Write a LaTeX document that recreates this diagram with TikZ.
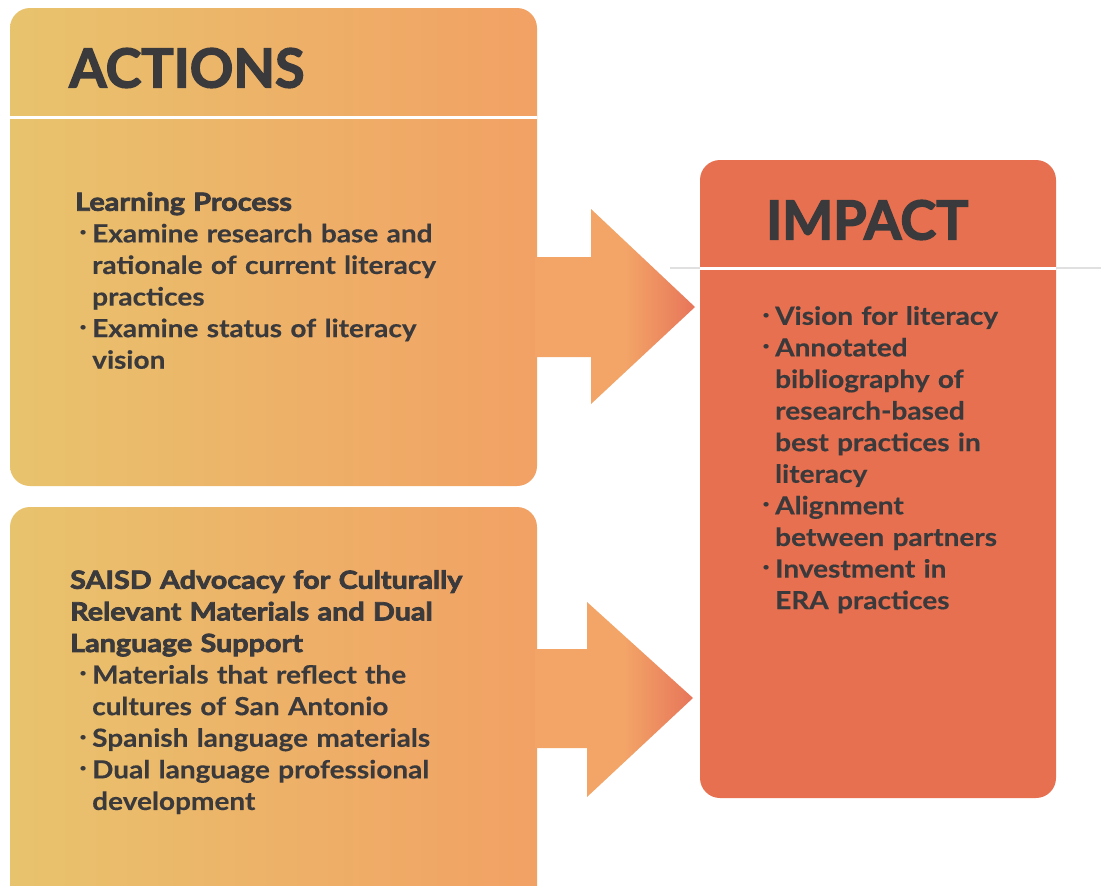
\documentclass[tikz,border=0pt]{standalone}
\usepackage{fontspec}
\setmainfont{Lato}[FakeStretch=1.12, BoldFeatures={FakeBold=0.3}]
\newfontfamily\heavyfont{Lato}[FakeStretch=1.15, BoldFeatures={FakeBold=3}]
\newfontfamily\titlefont{Lato}[BoldFeatures={FakeBold=2.5}]
\definecolor{actA}{HTML}{E8C36D}
\definecolor{actB}{HTML}{F2A164}
\definecolor{arrA}{HTML}{F3A567}
\definecolor{arrB}{HTML}{E7755A}
\definecolor{impact}{HTML}{E6704F}
\definecolor{ink}{HTML}{3A393C}
\pgfdeclarehorizontalshading{arrowfade}{100bp}{color(0bp)=(arrA); color(53bp)=(arrA); color(75bp)=(arrB); color(100bp)=(arrB)}
\newcommand\itm[1][4pt]{\hspace*{#1}\makebox[13pt][l]{\raisebox{.45ex}{\scalebox{.5}{\mdseries\textbullet}}}\ignorespaces}
\newcommand\cnt[1][4pt]{\hspace*{\dimexpr#1+13pt\relax}\ignorespaces}

\begin{document}
\begin{tikzpicture}[x=1pt,y=-1pt,
  txt/.style={anchor=north west,inner sep=0pt,text width=440pt,align=left,text=ink,font=\fontsize{25}{31.6}\selectfont\bfseries},
  hdr/.style={anchor=west,inner sep=0pt,text=ink,font=\fontsize{54}{60}\selectfont\titlefont\bfseries},
  sep/.style={white,line width=3pt}]
\useasboundingbox (0,0) rectangle (1101,886);
\clip (0,0) rectangle (1101,886);
% actions boxes
\shade[left color=actA,right color=actB,rounded corners=20pt] (10,8) rectangle (537,486);
\shade[left color=actA,right color=actB,rounded corners=20pt] (10,507) rectangle (537,910);
\draw[sep] (10,117) -- (537,117);
% arrows
\shade[shading=arrowfade] (535,257) -- (591,257) -- (591,209) -- (695,307) -- (591,404) -- (591,357) -- (535,357) -- cycle;
\shade[shading=arrowfade] (535,649) -- (587,649) -- (587,602) -- (693,698) -- (587,797) -- (587,748) -- (535,748) -- cycle;
% impact box
\fill[impact,rounded corners=20pt] (700,160) rectangle (1056,798);
\draw[black!12,line width=2pt] (670,268) -- (1101,268);
\draw[sep] (700,268) -- (1056,268);
% texts
\node[hdr] (actions) at (69,68) {ACTIONS};
\node[hdr] (impacttitle) at (766,220) {IMPACT};
\node[txt] (learning) at (75,192) {{\heavyfont Learning Process}\\
  \itm Examine research base and\\ \cnt rationale of current literacy\\ \cnt practices\\
  \itm Examine status of literacy\\ \cnt vision};
\node[txt] (saisd) at (70,570) {{\heavyfont SAISD Advocacy for Culturally\\ Relevant Materials and Dual\\ Language Support}\\
  \itm[9pt] Materials that reflect the\\ \cnt[9pt] cultures of San Antonio\\
  \itm[9pt] Spanish language materials\\
  \itm[9pt] Dual language professional\\ \cnt[9pt] development};
\node[txt] (results) at (760,306) {\itm[2pt] Vision for literacy\\
  \itm[2pt] Annotated\\ \cnt[2pt] bibliography of\\ \cnt[2pt] research-based\\ \cnt[2pt] best practices in\\ \cnt[2pt] literacy\\
  \itm[2pt] Alignment\\ \cnt[2pt] between partners\\
  \itm[2pt] Investment in\\ \cnt[2pt] ERA practices};
\end{tikzpicture}
\end{document}
